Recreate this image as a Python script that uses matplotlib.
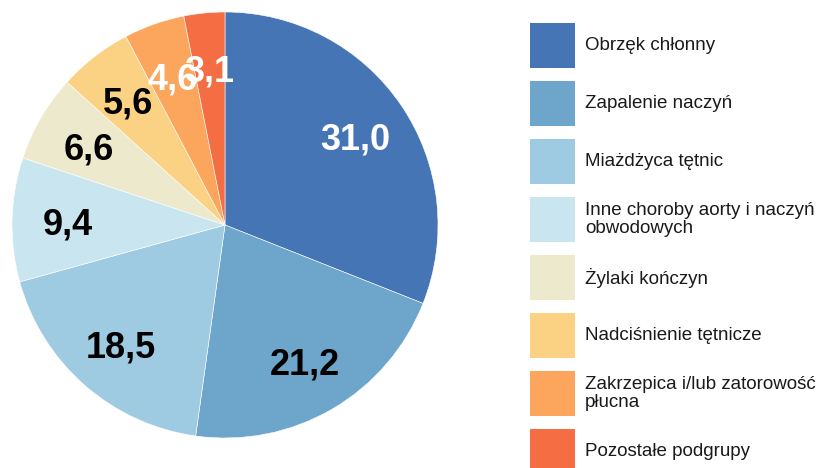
import matplotlib.pyplot as plt
from matplotlib.patches import Rectangle
from matplotlib import rcParams

rcParams['font.family'] = ['Liberation Sans', 'DejaVu Sans']

categories = [
    'Obrzęk chłonny',
    'Zapalenie naczyń',
    'Miażdżyca tętnic',
    'Inne choroby aorty i naczyń\nobwodowych',
    'Żylaki kończyn',
    'Nadciśnienie tętnicze',
    'Zakrzepica i/lub zatorowość\npłucna',
    'Pozostałe podgrupy',
]
shares = [31.0, 21.2, 18.5, 9.4, 6.6, 5.6, 4.6, 3.1]
colors = ['#4575b4', '#6ea5cb', '#9ecbe1', '#c9e6f0',
          '#ede9cc', '#fbd283', '#fba55d', '#f46d43']
label_colors = ['white', 'black', 'black', 'black',
                'black', 'black', 'white', 'white']

W, H = 824, 468
fig = plt.figure(figsize=(W / 100, H / 100), dpi=100)

# pie: centre (225, 225) px, radius 213 px
cx, cy, r = 225, 225, 213
ax = fig.add_axes([(cx - r) / W, (H - cy - r) / H, 2 * r / W, 2 * r / H])
wedges, texts = ax.pie(shares, colors=colors, startangle=90, counterclock=False,
                       radius=1, labels=[f'{v:.1f}'.replace('.', ',') for v in shares],
                       labeldistance=0.74,
                       wedgeprops=dict(edgecolor='white', linewidth=0.4))
for t, c in zip(texts, label_colors):
    t.set_color(c)
    t.set_fontsize(26)
    t.set_fontweight('bold')
    t.set_ha('center')
    t.set_va('center_baseline')
ax.set_xlim(-1, 1)
ax.set_ylim(-1, 1)
ax.set_aspect('equal')
ax.axis('off')

# legend drawn in pixel coordinates
lg = fig.add_axes([0, 0, 1, 1])
lg.set_xlim(0, W)
lg.set_ylim(H, 0)
lg.axis('off')
box = 45
pitch = 58
top = 23
for i, (name, col) in enumerate(zip(categories, colors)):
    y = top + i * pitch
    lg.add_patch(Rectangle((530, y), box, box, facecolor=col, edgecolor='none'))
    lg.text(585, y + box / 2, name, fontsize=13.5, color='#1a1a1a',
            va='center', ha='left', linespacing=1.15)

fig.savefig('out.png', dpi=100)
